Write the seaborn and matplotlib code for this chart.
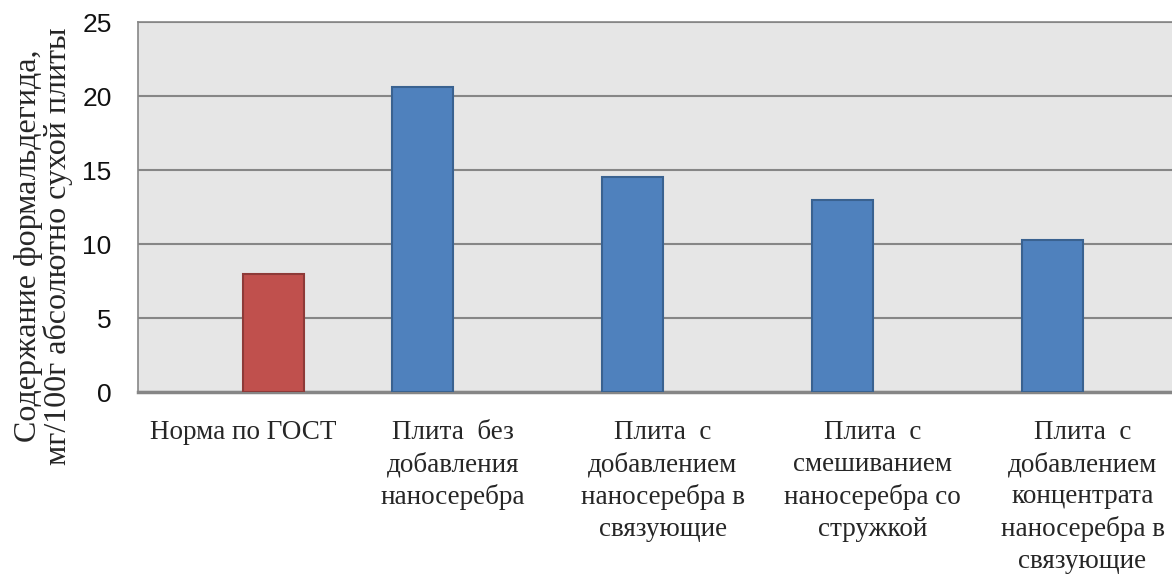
import pandas as pd
import matplotlib
matplotlib.use("Agg")
import matplotlib.pyplot as plt
import seaborn as sns

# data
categories = ["Норма по ГОСТ",
              "Плита  без\nдобавления\nнаносеребра",
              "Плита  с\nдобавлением\nнаносеребра в\nсвязующие",
              "Плита  с\nсмешиванием\nнаносеребра со\nстружкой",
              "Плита  с\nдобавлением\nконцентрата\nнаносеребра в\nсвязующие"]
values = [8.0, 20.6, 14.55, 13.0, 10.25]
series = ["Норма", "Плита", "Плита", "Плита", "Плита"]
series_order = ["Плита", "Норма"]
y_ticks = [0, 5, 10, 15, 20, 25]

df = pd.DataFrame({"cat": categories, "val": values, "ser": series})

sns.set_theme(style="white")
plt.rcParams['font.family'] = ['Liberation Sans', 'DejaVu Sans']

fig = plt.figure(figsize=(11.72, 5.74), dpi=100)
ax = fig.add_axes([138 / 1172, 182 / 574, 1049.5 / 1172, 370 / 574])
ax.set_facecolor("#e6e6e6")

sns.barplot(data=df, x="cat", y="val", hue="ser", hue_order=series_order,
            order=categories, palette={"Плита": "#4f81bd", "Норма": "#c0504d"},
            saturation=1, width=0.58, gap=0, dodge=True, legend=False,
            ax=ax, zorder=3)

edge_cols = {"Плита": "#3a6290", "Норма": "#8e3a38"}
for cont, name in zip(ax.containers, series_order):
    for p in cont:
        p.set_edgecolor(edge_cols[name])
        p.set_linewidth(1.5)

ax.set_ylim(0, 25)
ax.set_yticks(y_ticks)
ax.yaxis.grid(True, color="#868686", linewidth=1.5, zorder=0)
ax.set_axisbelow(True)

for side in ["left", "top", "right"]:
    ax.spines[side].set_color("#868686")
    ax.spines[side].set_linewidth(1.2)
ax.spines["bottom"].set_color("#868686")
ax.spines["bottom"].set_linewidth(2.5)

ax.tick_params(axis="both", length=0)
ax.tick_params(axis="y", labelsize=19, pad=19)
ax.tick_params(axis="x", pad=20)
for lab in ax.get_yticklabels():
    lab.set_color("#111111")
for lab in ax.get_xticklabels():
    lab.set_fontfamily("Liberation Serif")
    lab.set_fontsize(19.5)
    lab.set_linespacing(1.36)
    lab.set_horizontalalignment("center")
    lab.set_multialignment("center")

ax.set_xlabel("")
ax.set_ylabel("Содержание формальдегида,\nмг/100г абсолютно сухой плиты",
              fontfamily="Liberation Serif", fontsize=23, linespacing=1.0)
ax.yaxis.set_label_coords(-0.062, 0.395)

fig.savefig("out.png", dpi=100)
